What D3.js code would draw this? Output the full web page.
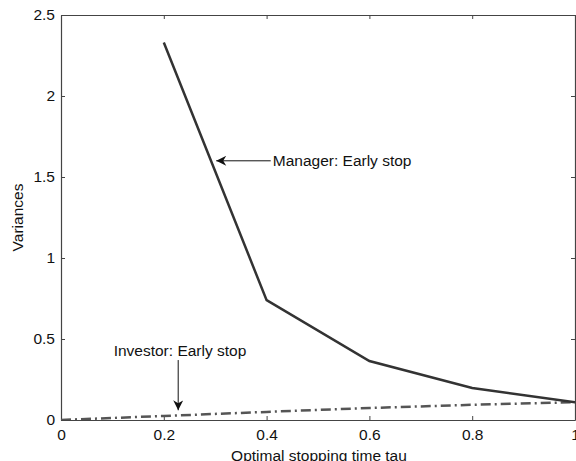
<!DOCTYPE html>
<html>
<head>
<meta charset="utf-8">
<script src="https://cdn.jsdelivr.net/npm/d3@7"></script>
<style>
  body { margin: 0; background: #fff; }
  svg { display: block; font-family: 'Liberation Sans', Arial, sans-serif; }
</style>
</head>
<body>
<div id="chart"></div>
<script>
// data
const tauValues = [0.2, 0.4, 0.6, 0.8, 1.0];
const managerVariance = [2.33, 0.74, 0.364, 0.198, 0.11];
const investorTau = [0, 0.2, 0.4, 0.6, 0.8, 1.0];
const investorVariance = [0, 0.025, 0.05, 0.074, 0.094, 0.11];
const xTicks = [0, 0.2, 0.4, 0.6, 0.8, 1];
const yTicks = [0, 0.5, 1, 1.5, 2, 2.5];

const fontSize = '15.5px';

const svg = d3
  .select('div#chart')
  .append('svg')
  .attr('width', 576)
  .attr('height', 461);

const margin = { top: 15, right: 1, bottom: 41, left: 61 };
const width = 576;
const height = 461;
const chartWidth = width - margin.left - margin.right;
const chartHeight = height - margin.top - margin.bottom;

const xScale = d3.scaleLinear().domain([0, 1]).range([0, chartWidth]);
const yScale = d3.scaleLinear().domain([0, 2.5]).range([chartHeight, 0]);

const defs = svg.append('defs');
defs
  .append('clipPath')
  .attr('id', 'plotclip')
  .append('rect')
  .attr('width', chartWidth)
  .attr('height', chartHeight);

const chartArea = svg
  .append('g')
  .attr('transform', `translate(${margin.left},${margin.top})`);

// axes with inward ticks, MATLAB style box
const fmt = (d) => String(d);
const bottomAxis = d3.axisBottom(xScale).tickValues(xTicks).tickFormat(fmt).tickSizeInner(-4).tickSizeOuter(0).tickPadding(9);
const topAxis = d3.axisTop(xScale).tickValues(xTicks).tickFormat('').tickSizeInner(-4).tickSizeOuter(0);
const leftAxis = d3.axisLeft(yScale).tickValues(yTicks).tickFormat(fmt).tickSizeInner(-4).tickSizeOuter(0).tickPadding(6);
const rightAxis = d3.axisRight(yScale).tickValues(yTicks).tickFormat('').tickSizeInner(-4).tickSizeOuter(0);

function styleAxis(g) {
  g.select('.domain').attr('stroke', '#444').attr('stroke-width', 1.2);
  g.selectAll('.tick line').attr('stroke', '#444');
  g.selectAll('.tick text').attr('fill', '#111').style('font-size', fontSize);
}

chartArea.append('g').attr('transform', `translate(0,${chartHeight})`).call(bottomAxis).call(styleAxis);
chartArea.append('g').call(topAxis).call(styleAxis);
chartArea.append('g').call(leftAxis).call(styleAxis);
chartArea.append('g').attr('transform', `translate(${chartWidth},0)`).call(rightAxis).call(styleAxis);

// lines
const lineGen = d3
  .line()
  .x((d) => xScale(d[0]))
  .y((d) => yScale(d[1]));

const plot = chartArea.append('g').attr('clip-path', 'url(#plotclip)');

plot
  .append('path')
  .attr('d', lineGen(investorTau.map((t, i) => [t, investorVariance[i]])))
  .attr('fill', 'none')
  .attr('stroke', '#555')
  .attr('stroke-width', 2.5)
  .attr('stroke-dasharray', '10,4,2,4');

plot
  .append('path')
  .attr('d', lineGen(tauValues.map((t, i) => [t, managerVariance[i]])))
  .attr('fill', 'none')
  .attr('stroke', '#333')
  .attr('stroke-width', 2.5);

// annotations
const marker = defs
  .append('marker')
  .attr('id', 'arrow')
  .attr('viewBox', '0 0 10 10')
  .attr('refX', 10)
  .attr('refY', 5)
  .attr('markerUnits', 'userSpaceOnUse')
  .attr('markerWidth', 12)
  .attr('markerHeight', 10)
  .attr('orient', 'auto');
marker.append('path').attr('d', 'M0,0 L10,5 L0,10 L3,5 Z').attr('fill', '#111');

function annotate(text, textX, textY, anchor, x1, y1, x2, y2) {
  chartArea
    .append('line')
    .attr('x1', x1)
    .attr('y1', y1)
    .attr('x2', x2)
    .attr('y2', y2)
    .attr('stroke', '#111')
    .attr('stroke-width', 1)
    .attr('marker-end', 'url(#arrow)');
  chartArea
    .append('text')
    .attr('x', textX)
    .attr('y', textY)
    .attr('text-anchor', anchor)
    .attr('dominant-baseline', 'middle')
    .style('font-size', fontSize)
    .attr('fill', '#111')
    .text(text);
}

// Manager: arrow points at the curve near tau=0.3
annotate('Manager: Early stop', xScale(0.412), yScale(1.595), 'start',
  xScale(0.408), yScale(1.6), xScale(0.302), yScale(1.6));
// Investor: arrow points down at the dash-dot line
annotate('Investor: Early stop', xScale(0.2315), yScale(0.42), 'middle',
  xScale(0.228), yScale(0.37), xScale(0.228), yScale(0.06));

// axis labels
svg
  .append('text')
  .attr('x', margin.left + chartWidth / 2 + 1)
  .attr('y', 457)
  .attr('text-anchor', 'middle')
  .attr('dominant-baseline', 'middle')
  .style('font-size', fontSize)
  .attr('fill', '#111')
  .text('Optimal stopping time tau');

svg
  .append('text')
  .attr('transform', `translate(19,${margin.top + chartHeight / 2}) rotate(-90)`)
  .attr('text-anchor', 'middle')
  .attr('dominant-baseline', 'middle')
  .style('font-size', fontSize)
  .attr('fill', '#111')
  .text('Variances');
</script>
</body>
</html>
